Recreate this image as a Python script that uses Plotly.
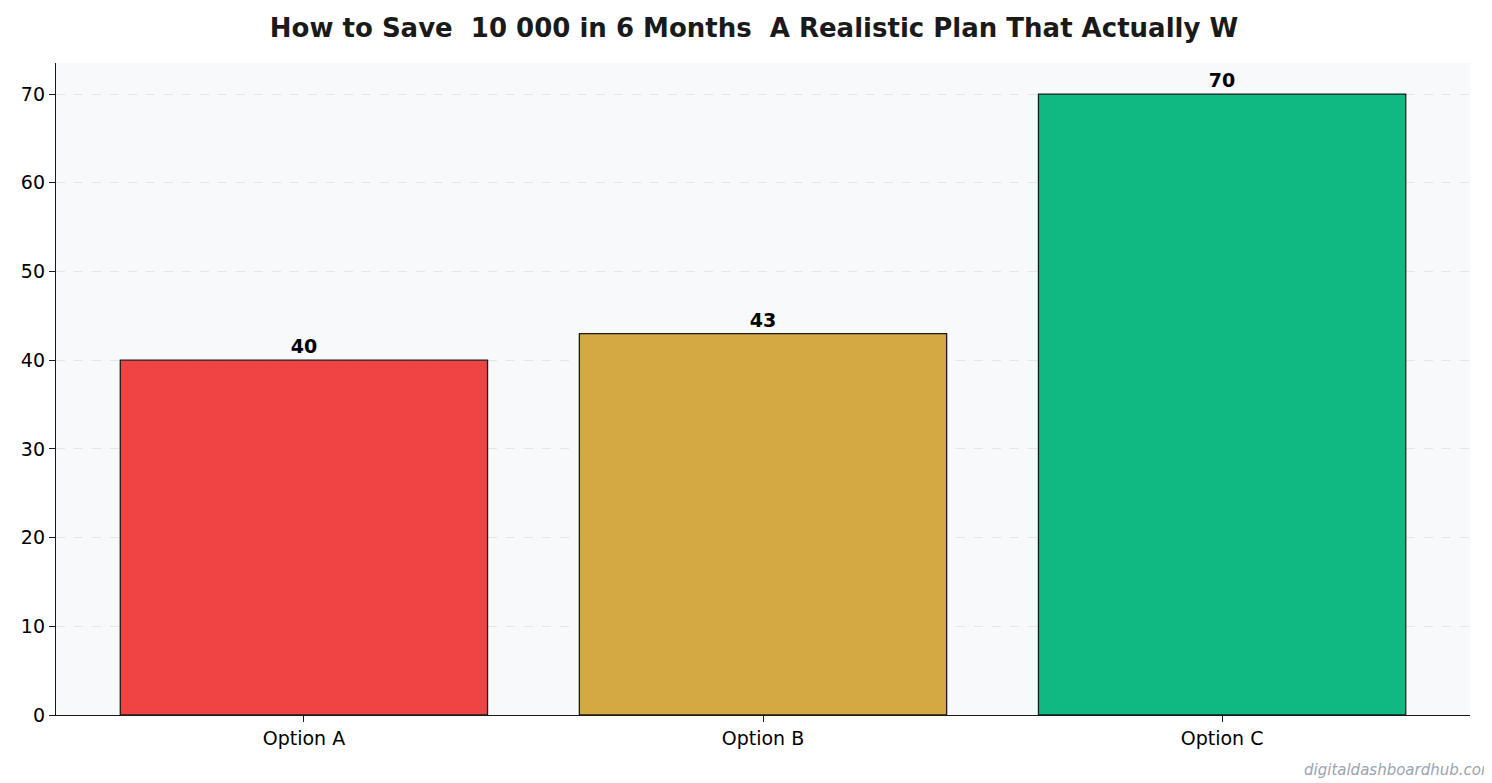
import plotly.graph_objects as go

categories = ["Option A", "Option B", "Option C"]
values = [40, 43, 70]
colors = ["#EF4444", "#D4A843", "#10B981"]

fig = go.Figure(go.Bar(
    x=categories, y=values, width=0.8,
    marker=dict(color=colors, line=dict(color="#1a1a1a", width=1.3)),
    text=[str(v) for v in values], textposition="outside",
    textfont=dict(family="DejaVu Sans", size=19, color="black", weight="bold"),
    cliponaxis=False,
))
fig.update_layout(
    width=1492, height=783,
    paper_bgcolor="white", plot_bgcolor="#F8F9FA",
    margin=dict(l=48, r=30, t=55, b=76, pad=0),
    title=dict(text="<b>How to Save  10 000 in 6 Months  A Realistic Plan That Actually W</b>",
               x=0.5, xanchor="center", y=0.975, yanchor="middle",
               font=dict(family="DejaVu Sans", size=26, color="#1a1a1a")),
    font=dict(family="DejaVu Sans", size=19, color="black"),
    showlegend=False,
)
fig.add_annotation(text="<i>digitaldashboardhub.com</i>", xref="paper", yref="paper",
                   x=1.02, y=-0.085, xanchor="right", yanchor="middle", showarrow=False,
                   font=dict(family="DejaVu Sans", size=15, color="#9CA3AF"))
fig.update_xaxes(range=[-0.54, 2.54], showline=True, linecolor="#1a1a1a", linewidth=1.3,
                 ticks="outside", ticklen=6, tickcolor="#1a1a1a", showgrid=False)
fig.update_yaxes(range=[0, 73.5], dtick=10, showline=True, linecolor="#1a1a1a", linewidth=1.3,
                 ticks="outside", ticklen=6, tickcolor="#1a1a1a",
                 showgrid=True, gridcolor="#E2E5E9", griddash="dash", gridwidth=1, zeroline=False)
fig.write_html("out.html")
